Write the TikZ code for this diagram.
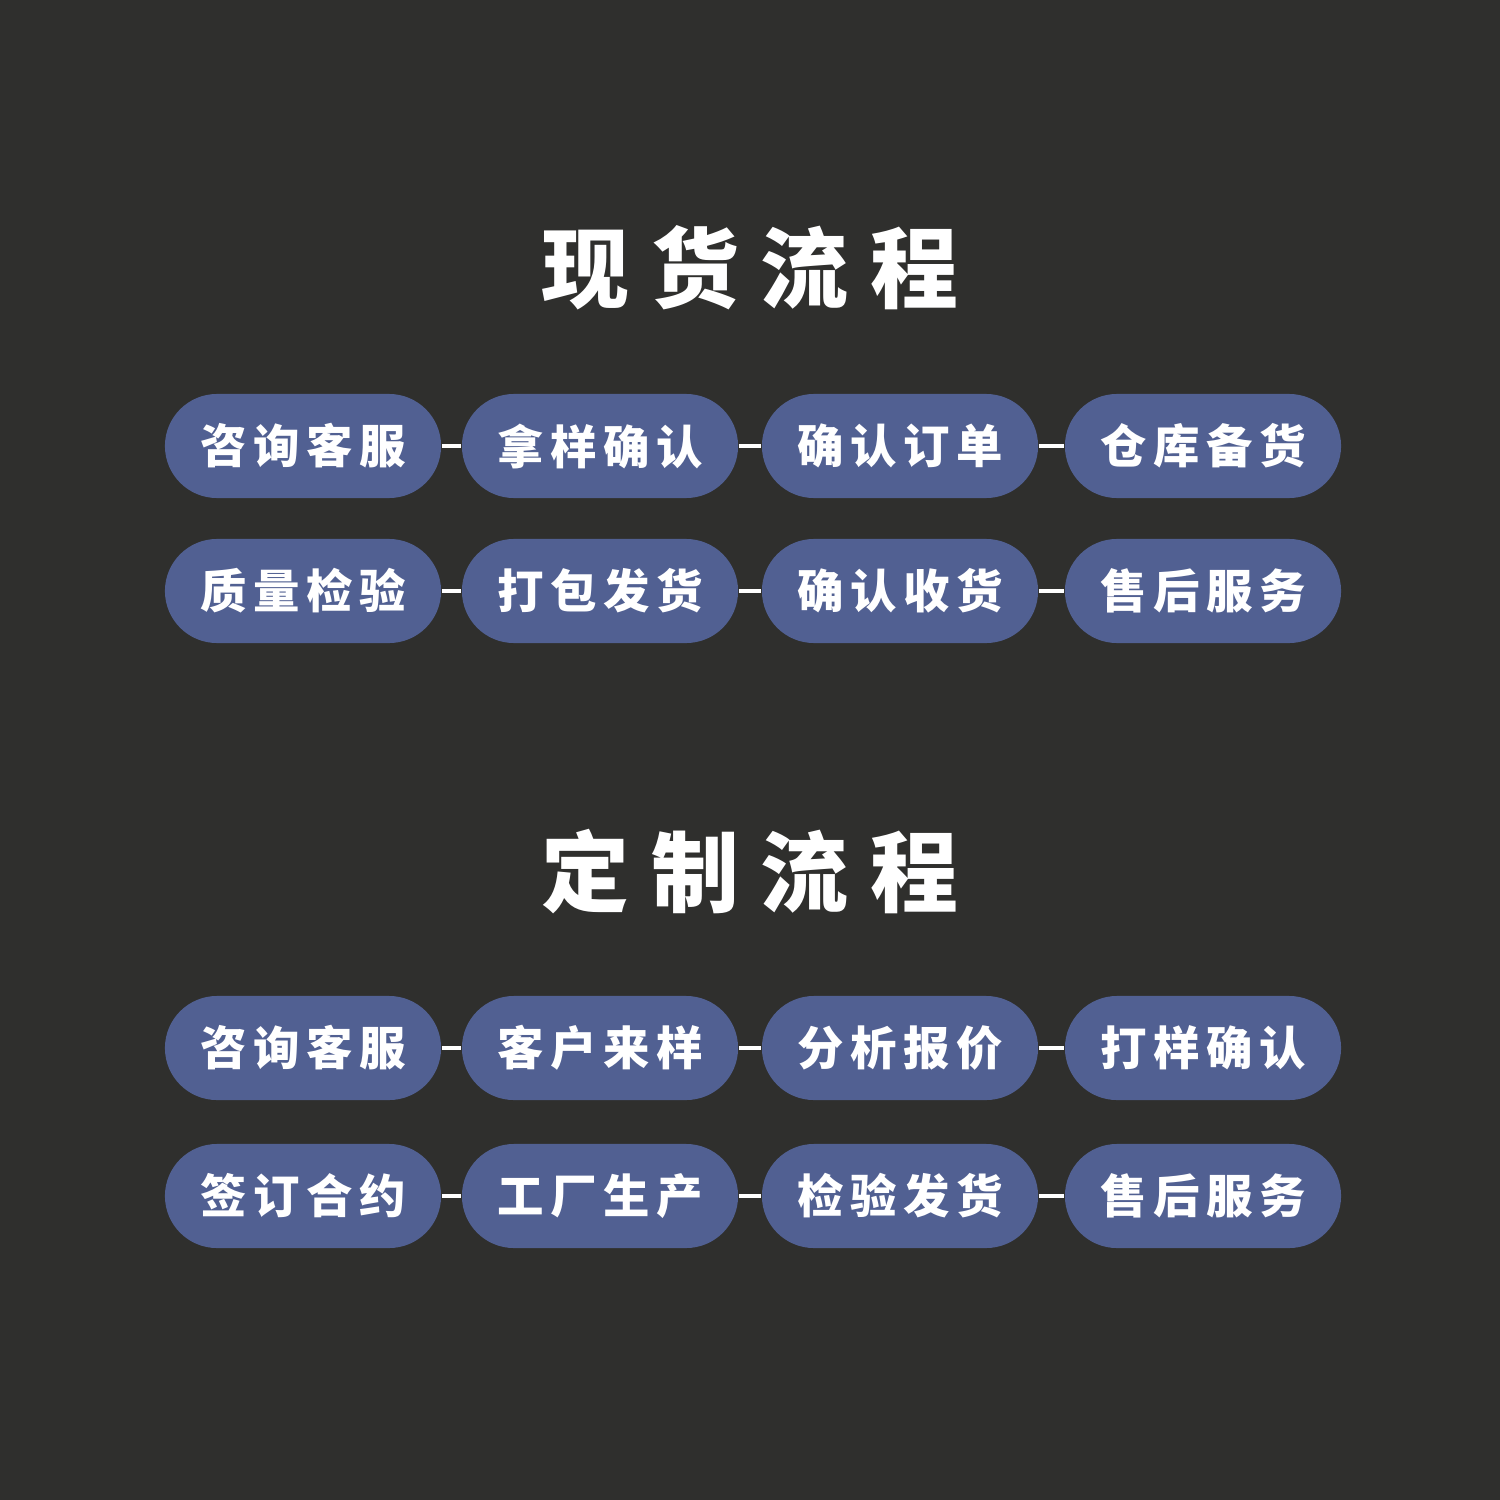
\documentclass[tikz,border=0pt]{standalone}
\usepackage{fontspec}
\usepackage{tikz}
\newfontfamily\cjkstep{Noto Sans CJK SC}[LetterSpace=14]
\newfontfamily\cjktitle{Noto Sans CJK SC}[LetterSpace=25]
\definecolor{backdrop}{HTML}{2F2F2D}
\definecolor{pillblue}{HTML}{516092}

\begin{document}
\begin{tikzpicture}[x=0.01cm,y=-0.01cm,
    stepbox/.style={fill=pillblue,rounded corners=0.52cm,minimum width=2.76cm,
      minimum height=1.04cm,inner sep=0pt,text=white,
      font=\cjkstep\bfseries\fontsize{13.2pt}{13.2pt}\selectfont},
    heading/.style={text=white,inner sep=0pt,
      font=\cjktitle\bfseries\fontsize{25pt}{25pt}\selectfont},
    link/.style={white,line width=1.2pt}]

  % --- the backdrop, which also fixes the page ---
  \fill[backdrop] (0,0) rectangle (1500,1500);
  \useasboundingbox (0,0) rectangle (1500,1500);

  % --- first flow: stock goods ---
  \node[heading] (stocktitle) at (750,268) {现货流程};

  \node[stepbox] (sa1) at ( 303,446) {咨询客服};
  \node[stepbox] (sa2) at ( 600,446) {拿样确认};
  \node[stepbox] (sa3) at ( 900,446) {确认订单};
  \node[stepbox] (sa4) at (1203,446) {仓库备货};

  \node[stepbox] (sb1) at ( 303,591) {质量检验};
  \node[stepbox] (sb2) at ( 600,591) {打包发货};
  \node[stepbox] (sb3) at ( 900,591) {确认收货};
  \node[stepbox] (sb4) at (1203,591) {售后服务};

  \draw[link] (sa1.east) -- (sa2.west);
  \draw[link] (sa2.east) -- (sa3.west);
  \draw[link] (sa3.east) -- (sa4.west);
  \draw[link] (sb1.east) -- (sb2.west);
  \draw[link] (sb2.east) -- (sb3.west);
  \draw[link] (sb3.east) -- (sb4.west);

  % --- second flow: made to order ---
  \node[heading] (customtitle) at (750,872) {定制流程};

  \node[stepbox] (ca1) at ( 303,1048) {咨询客服};
  \node[stepbox] (ca2) at ( 600,1048) {客户来样};
  \node[stepbox] (ca3) at ( 900,1048) {分析报价};
  \node[stepbox] (ca4) at (1203,1048) {打样确认};

  \node[stepbox] (cb1) at ( 303,1196) {签订合约};
  \node[stepbox] (cb2) at ( 600,1196) {工厂生产};
  \node[stepbox] (cb3) at ( 900,1196) {检验发货};
  \node[stepbox] (cb4) at (1203,1196) {售后服务};

  \draw[link] (ca1.east) -- (ca2.west);
  \draw[link] (ca2.east) -- (ca3.west);
  \draw[link] (ca3.east) -- (ca4.west);
  \draw[link] (cb1.east) -- (cb2.west);
  \draw[link] (cb2.east) -- (cb3.west);
  \draw[link] (cb3.east) -- (cb4.west);
\end{tikzpicture}
\end{document}
